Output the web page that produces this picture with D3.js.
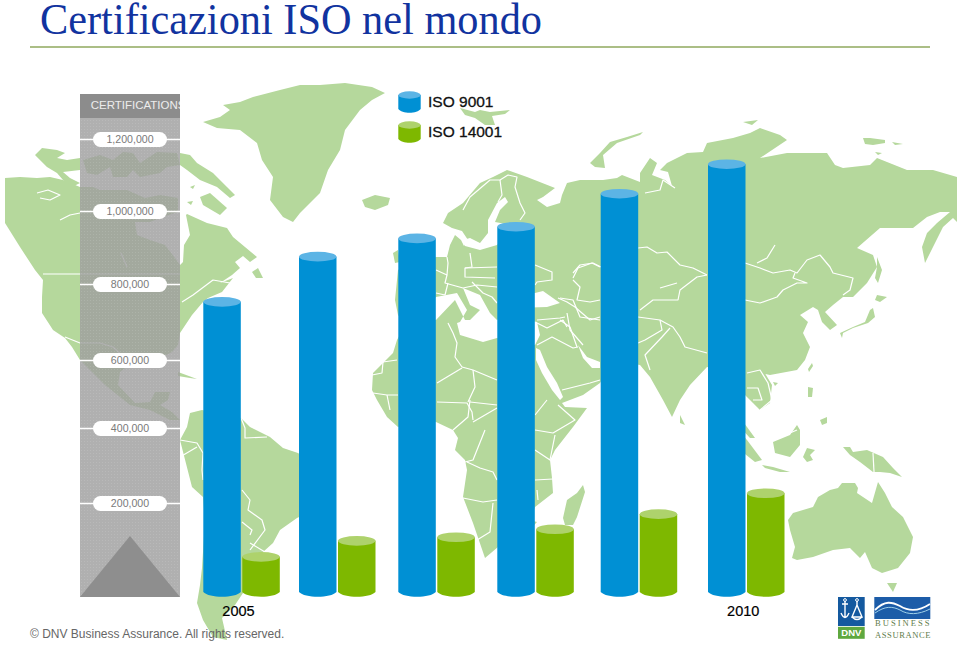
<!DOCTYPE html>
<html><head><meta charset="utf-8">
<script src="https://cdn.jsdelivr.net/npm/d3@7/dist/d3.min.js"></script>
<style>html,body{margin:0;padding:0;background:#fff}svg{display:block}</style>
</head><body><svg id="c" width="960" height="645"></svg>
<script>
// ---- chart data ----
const years = [2005, 2006, 2007, 2008, 2009, 2010];
const labelledYears = [2005, 2010];
const iso9001 = [753000, 875000, 925000, 957000, 1048000, 1130000];
const iso14001 = [79000, 115000, 123000, 141000, 175000, 226000];
const seriesNames = ["ISO 9001", "ISO 14001"];
const yTicks = [200000, 400000, 600000, 800000, 1000000, 1200000];
const titleText = "Certificazioni ISO nel mondo";
const axisTitle = "CERTIFICATIONS";
const footerText = "© DNV Business Assurance. All rights reserved.";

// ---- decorative world map outlines ----
const mapLand = [
 "5,178 20,177 37,178 50,177 63,180 80,187 93,187 100,190 127,190 145,198 160,195 178,198 178,212 165,216 150,222 135,222 137,235 150,240 165,245 175,258 180,265 183,262 184,245 190,235 186,215 187,214 207,223 227,228 233,237 257,257 250,262 243,256 235,262 240,268 232,275 220,283 233,278 222,292 208,298 203,302 192,315 180,333 178,345 172,352 160,358 135,360 120,372 118,385 135,403 150,402 155,392 170,392 168,400 160,405 172,412 180,420 170,420 150,410 130,405 105,385 88,368 80,360 72,347 65,338 53,330 42,313 42,297 43,280 35,270 20,247 5,223",
 "252,272 258,268 263,278 256,278",
 "35,155 42,148 57,150 65,153 57,158 67,160 80,158 80,170 63,172 70,178 80,183 72,187 63,180 57,173 47,167",
 "83,160 100,155 113,160 123,152 133,153 140,163 157,152 177,153 180,165 167,167 160,173 140,177 133,170 127,177 113,177 110,167 97,175 87,173",
 "180,153 190,155 197,163 213,173 227,187 235,195 230,198 217,187 200,180 187,170 180,165",
 "200,197 210,193 227,208 220,215 203,205",
 "190,187 195,185 193,189",
 "187,202 193,201 191,205",
 "203,122 220,117 230,110 223,105 240,102 253,97 280,90 300,85 320,85 345,83 372,87 385,93 372,100 360,110 345,130 340,150 328,170 320,193 300,213 293,222 283,217 270,200 273,177 262,160 257,143 240,130 217,128",
 "362,200 375,195 390,198 388,205 375,210 365,207",
 "460,108 475,112 480,110 490,112 510,110 505,114 492,116 495,125 485,125 475,118 465,115",
 "590,163 600,153 610,142 627,137 643,132 640,135 617,143 603,155 605,168 595,167",
 "743,122 758,120 752,125",
 "863,138 870,138 885,140 885,143 873,145 865,144",
 "892,142 903,144 895,145",
 "875,152 882,153 878,155",
 // Eurasia + Africa
 "436,257 447,257 450,245 455,235 461,240 464,246 468,240 462,231 452,228 443,223 448,213 463,203 480,183 493,177 507,170 527,177 555,188 543,197 537,200 547,207 560,203 562,195 567,183 580,180 603,180 617,178 622,175 640,182 640,173 650,158 657,163 652,175 665,180 672,186 668,172 660,170 667,163 687,153 703,152 707,143 733,138 750,133 760,128 780,135 787,140 760,158 787,153 827,153 835,165 843,168 870,165 877,158 907,170 933,170 957,177 957,222 953,218 943,227 933,247 925,263 922,247 927,233 937,223 950,212 940,212 927,217 913,228 880,228 857,248 873,255 877,267 867,283 853,297 843,297 833,305 825,312 837,325 830,330 822,322 818,310 813,307 800,315 808,322 803,333 810,347 805,360 797,370 770,375 747,370 763,370 772,385 770,403 760,410 750,400 745,395 725,370 707,367 690,385 680,400 672,417 663,400 650,377 640,365 620,362 605,375 600,383 583,395 562,403 565,407 587,408 573,427 555,450 550,460 552,478 553,493 535,507 530,520 537,522 525,535 498,547 485,558 473,523 463,497 467,470 465,460 455,450 458,438 453,430 436,422 420,418 398,427 387,417 377,400 372,390 373,373 393,353 397,340 405,325 398,315 395,300 398,270 410,262",
 "393,253 398,250 400,262 395,263",
 "583,485 585,492 577,517 573,525 565,525 563,518 567,500 577,493",
 "680,415 685,425 680,423",
 "877,257 882,270 878,283 875,278 877,267",
 "877,295 887,297 880,302 875,300",
 "873,308 875,317 868,323 853,328 843,333 842,338 840,333 853,327 865,322 870,310",
 "812,363 813,366 809,372 808,369",
 "773,382 778,383 775,386",
 "738,415 747,427 755,438 750,438 738,425",
 "735,425 747,440 762,460 755,462 740,450",
 "773,442 790,435 797,425 800,430 800,445 790,457 775,453",
 "803,457 807,448 815,450 810,455 813,460 807,462",
 "762,465 773,467 790,472 780,472 765,468",
 "808,387 813,388 812,397 808,397",
 "820,420 827,417 827,423 822,425",
 "843,447 850,447 853,452 867,450 883,457 893,468 902,477 890,473 880,472 873,472 860,462 850,455",
 "788,520 793,513 813,507 818,497 830,490 838,488 842,483 855,483 858,488 857,493 872,503 878,482 885,493 892,507 903,517 913,537 910,553 898,568 882,573 872,568 865,552 860,558 850,548 833,550 813,557 797,560 792,558 795,547 790,530",
 "887,583 897,583 893,592",
 // South America
 "190,413 202,410 241,418 250,427 270,437 283,448 298,453 320,470 335,490 325,505 297,518 280,530 273,543 263,552 255,565 245,590 235,605 222,618 227,640 213,637 203,620 197,603 200,585 202,568 205,520 203,497 192,487 180,440 187,427",
 "178,372 197,379 190,378 178,376"
];
const mapWater = [
 "505,197 497,203 488,220 488,233 480,243 470,238 463,240 461,232 465,246 480,250 497,245 505,235 512,225 495,222 500,210 508,202",
 "410,320 436,297 457,293 467,310 460,322 457,323 460,335 483,342 497,338 535,345 540,335 537,322 505,315 497,320 490,313 480,295 463,288 470,305 480,310 470,320 465,320 455,300 436,320",
 "510,298 535,293 543,291 560,303 547,307 515,308",
 "536,348 540,350 547,367 557,383 563,397 560,400 552,390 542,373 536,360",
 "578,345 587,357 600,362 600,368 592,368 583,358"
];
const mapBorders = [
 "436,270 447,275 448,263 447,257","470,253 472,267 465,268 465,277 495,278","465,268 497,267","447,275 445,283 463,288 477,285 497,287","472,282 483,293 492,297 497,303","448,283 445,295 436,293",
 "463,210 470,197 490,180 500,180 508,175 517,177 515,187 520,203 525,213 520,220","500,180 502,195 498,202",
 "535,265 552,272 552,280 537,282 535,285","558,298 567,302 575,307 590,320 600,317","573,278 578,268 592,263 600,267","573,280 580,287 577,300 590,302 600,300",
 "537,323 547,328 563,320 567,327","565,317 560,318 537,320","567,313 570,330 583,345","537,345 552,337 573,348 578,347","562,390 590,383 600,380",
 "448,323 453,333 457,343 455,357 462,367","462,367 473,370 497,380","437,383 462,368","473,370 475,387 468,402","470,402 497,405","437,402 467,403 472,412 473,420",
 "372,375 382,373 383,362 397,360","373,393 387,395 398,395","387,395 390,410",
 "470,400 468,417 453,430","497,408 473,422","485,430 473,460 465,462","467,462 480,468 493,472 497,480","463,498 483,502 497,500","493,503 490,532 477,540",
 "535,430 553,433 575,420 558,405","535,450 550,460 555,435","535,480 553,479","537,490 538,500","547,400 535,415",
 "638,248 647,247 657,253 667,252 680,265 693,268 707,275","573,273 580,265 593,263 601,267",
 "745,263 760,268 773,273 790,270 797,273 807,260 820,255 830,267 833,273 853,278 850,290 843,295",
 "745,300 760,303 777,297 783,290 797,283 807,283 793,278 795,273",
 "707,275 697,277 680,290 678,300 653,300 640,310","660,320 673,327 680,337 685,347 707,353","638,317 660,320 662,330 645,340 638,343","670,328 662,337 645,355 650,370",
 "560,298 573,300 580,317 600,320","560,320 570,327 577,347","660,288 677,283","757,263 767,258 775,245","645,193 660,190 663,180 675,188",
 "747,373 760,370 768,383 772,400 760,410","747,388 758,388 762,400 753,400","778,438 797,430","873,453 874,472",
 "43,274 180,274","182,302 193,295 213,280 230,283","65,337 80,343 100,343 113,347 125,358 135,358","37,193 48,190 60,195 50,200 40,198","60,220 70,215 80,213","121,253 127,267",
 "241,418 245,428 245,438 267,437","180,440 197,443 203,453 202,470 203,480","180,457 197,447","242,490 250,500 248,510 262,520 265,530 250,550","242,522 252,530 250,535","250,543 265,552"
];

const svg = d3.select("#c");
const defs = svg.append("defs");
defs.append("clipPath").attr("id","panelClip").append("rect").attr("x",80).attr("y",94).attr("width",100).attr("height",503);
const pat = defs.append("pattern").attr("id","dots").attr("width",3).attr("height",3).attr("patternUnits","userSpaceOnUse");
pat.append("rect").attr("width",3).attr("height",3).attr("fill","rgb(159,159,159)").attr("fill-opacity",0.82);
pat.append("rect").attr("width",1).attr("height",1).attr("fill","#fff").attr("fill-opacity",0.12);

// ---- scales ----
const x = d3.scaleLinear().domain(years).range([203.3, 299, 398.3, 497.3, 600.7, 708]);
const y = d3.scaleLinear().domain([0, ...yTicks]).range([592, 503, 428, 360, 284, 211, 139]);
const barW = 37.5, gap = 39, capRy = 4.8;

// ---- map ----
const parse = s => s.split(" ").map(p => p.split(",").map(Number));
const line = d3.line();
const map = svg.append("g");
map.selectAll("path.land").data(mapLand).join("path").attr("class","land").attr("d",d=>line(parse(d))+"Z").attr("fill","#b5d89c");
map.selectAll("path.water").data(mapWater).join("path").attr("class","water").attr("d",d=>line(parse(d))+"Z").attr("fill","#fff");
map.selectAll("path.border").data(mapBorders).join("path").attr("class","border").attr("d",d=>line(parse(d))).attr("fill","none").attr("stroke","#fff").attr("stroke-width",1.2).attr("stroke-linejoin","round");

// ---- title ----
svg.append("text").attr("x",40).attr("y",33.5).attr("font-family","'Liberation Serif',serif").attr("font-size",44.5).attr("textLength",502).attr("lengthAdjust","spacingAndGlyphs").attr("fill","#11339f").text(titleText);
svg.append("line").attr("x1",30).attr("x2",930).attr("y1",47).attr("y2",47).attr("stroke","#8fa95e").attr("stroke-width",1.3);

// ---- axis panel ----
svg.append("rect").attr("x",80).attr("y",118).attr("width",100).attr("height",479).attr("fill","url(#dots)");
svg.append("rect").attr("x",80).attr("y",94).attr("width",100).attr("height",24).attr("fill","#8c8c8c");
svg.append("text").attr("x",90.7).attr("y",109).attr("clip-path","url(#panelClip)").attr("font-family","'Liberation Sans',sans-serif").attr("font-size",11.5).attr("fill","#ececec").text(axisTitle);
svg.append("path").attr("d",line([[130,536],[180,597],[80,597]])+"Z").attr("fill","#8e8e8e");

const axis = d3.axisRight(y).tickValues(yTicks).tickFormat(d3.format(",")).tickSize(100).tickPadding(0);
const ag = svg.append("g").attr("transform","translate(80,0)").call(axis);
ag.select(".domain").remove();
ag.selectAll(".tick line").attr("stroke","#fff").attr("stroke-width",1.3);
ag.selectAll(".tick").insert("rect","text").attr("x",13).attr("y",-7.5).attr("width",74).attr("height",15).attr("rx",7.5).attr("fill","#fff");
ag.selectAll(".tick text").attr("x",50).attr("dy",".36em").attr("text-anchor","middle").attr("font-family","'Liberation Sans',sans-serif").attr("font-size",10.6).attr("fill","#7a7a7a");

// ---- cylinders ----
const colors = [{side:"#0090d4",cap:"#5cb4e5"},{side:"#7eb800",cap:"#aed26c"}];
function cylPath(xl, w, yTop, yBot, ry){
  const p = d3.path();
  p.moveTo(xl, yTop);
  p.lineTo(xl, yBot);
  p.bezierCurveTo(xl+w*0.15, yBot+ry*1.33, xl+w*0.85, yBot+ry*1.33, xl+w, yBot);
  p.lineTo(xl+w, yTop);
  p.closePath();
  return p.toString();
}
function drawCyl(g, xl, w, yTop, yBot, ry, c){
  g.append("path").attr("d",cylPath(xl,w,yTop,yBot,ry)).attr("fill",c.side);
  g.append("ellipse").attr("cx",xl+w/2).attr("cy",yTop).attr("rx",w/2).attr("ry",ry).attr("fill",c.cap);
}
const bars = svg.append("g");
years.forEach((yr,i)=>{
  drawCyl(bars, x(yr), barW, y(iso9001[i]), y(0), capRy, colors[0]);
  drawCyl(bars, x(yr)+gap, barW, y(iso14001[i]), y(0), capRy, colors[1]);
});

// ---- legend ----
const lg = svg.append("g");
seriesNames.forEach((n,i)=>{
  const ty = 95 + i*30;
  drawCyl(lg, 398.3, 22.4, ty, ty+14, 3.7, colors[i]);
  lg.append("text").attr("x",428).attr("y",107+i*30.3).attr("font-family","'Liberation Sans',sans-serif").attr("font-size",15.5).attr("fill","#111").attr("stroke","#111").attr("stroke-width",0.3).text(n);
});

// ---- year labels ----
svg.selectAll("text.yr").data(labelledYears).join("text").attr("class","yr").attr("x",d=>x(d)+35.2).attr("y",615.5).attr("text-anchor","middle").attr("font-family","'Liberation Sans',sans-serif").attr("font-size",14.5).attr("fill","#000").attr("stroke","#000").attr("stroke-width",0.2).text(d=>d);

// ---- footer ----
svg.append("text").attr("x",30).attr("y",638).attr("font-family","'Liberation Sans',sans-serif").attr("font-size",12).attr("fill","#666").text(footerText);

// ---- logos ----
const logo = svg.append("g");
logo.append("rect").attr("x",838).attr("y",597).attr("width",26.7).attr("height",29).attr("fill","#14599f");
logo.append("rect").attr("x",838).attr("y",626.8).attr("width",26.7).attr("height",12).attr("fill","#5fa83f");
logo.append("text").attr("x",851.3).attr("y",636.3).attr("text-anchor","middle").attr("font-family","'Liberation Sans',sans-serif").attr("font-weight","bold").attr("font-size",9.5).attr("fill","#fff").text("DNV");
logo.append("path").attr("d","M845 601v17M842 604h6M841 613q4 9 8 0M857 601v4M857 605l-5 12h10zM852 617q5 5 10 0").attr("fill","none").attr("stroke","#fff").attr("stroke-width",1.4);
logo.append("circle").attr("cx",845).attr("cy",600).attr("r",1.4).attr("fill","none").attr("stroke","#fff");
logo.append("circle").attr("cx",857).attr("cy",600).attr("r",1.4).attr("fill","none").attr("stroke","#fff");
logo.append("rect").attr("x",874.3).attr("y",597).attr("width",56).attr("height",22).attr("fill","#1c5ca8");
logo.append("path").attr("d","M875 610 C885 600 892 602 900 606 C908 611 918 612 930 604").attr("fill","none").attr("stroke","#fff").attr("stroke-width",1.8);
logo.append("path").attr("d","M875 613 C885 606 892 606 900 610 C908 615 918 615 930 609").attr("fill","none").attr("stroke","#9fd0e8").attr("stroke-width",1);
logo.append("text").attr("x",875).attr("y",626).attr("font-family","'Liberation Serif',serif").attr("font-size",8.6).attr("letter-spacing",2).attr("fill","#5f7d4c").text("BUSINESS");
logo.append("text").attr("x",875).attr("y",638).attr("font-family","'Liberation Serif',serif").attr("font-size",8.6).attr("letter-spacing",0.55).attr("fill","#5f7d4c").text("ASSURANCE");
</script></body></html>
